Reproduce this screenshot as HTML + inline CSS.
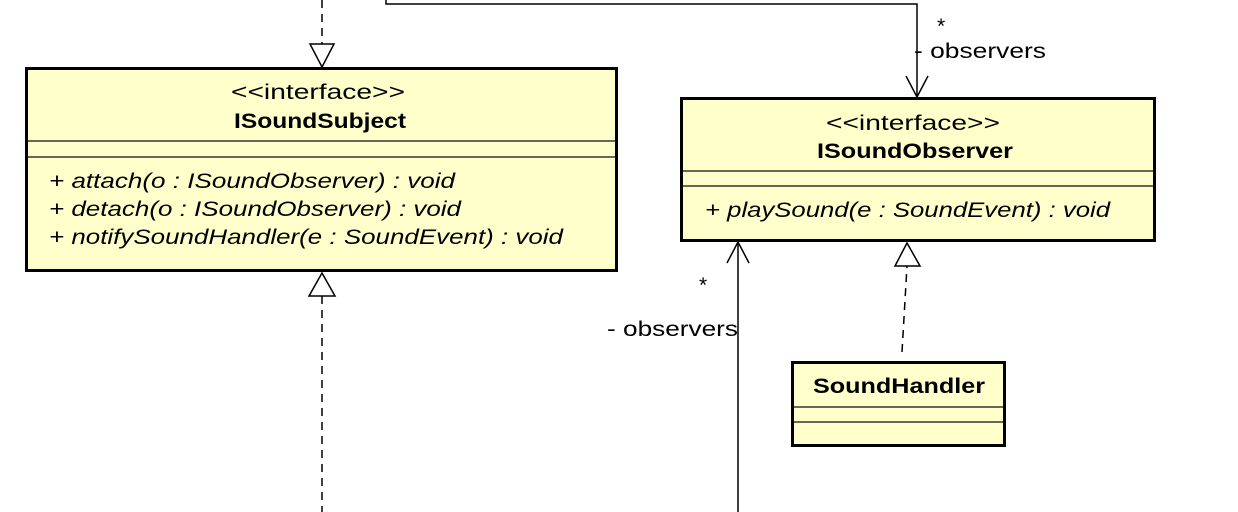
<!DOCTYPE html>
<html><head><meta charset="utf-8"><style>
html,body{margin:0;padding:0;background:#fff;}
svg{display:block;}
text{font-family:"Liberation Sans","DejaVu Sans",sans-serif;font-size:21px;fill:#000;}
.b{font-weight:bold;}
.i{font-style:italic;}
</style></head><body>
<svg width="1238" height="512" viewBox="0 0 1238 512" xmlns="http://www.w3.org/2000/svg">
<!-- top dashed realization into ISoundSubject -->
<line x1="322" y1="0" x2="322" y2="44" stroke="#000" stroke-width="1.5" stroke-dasharray="8,6"/>
<polygon points="310,44 334,44 322,67" fill="#fff" stroke="#000" stroke-width="1.5"/>
<!-- top association -->
<polyline points="386,0 386,4 917,4 917,97" fill="none" stroke="#000" stroke-width="1.5"/>
<polyline points="906,76 917,97 928,76" fill="none" stroke="#000" stroke-width="1.5"/>
<text x="937" y="33">*</text>
<text x="914" y="58" textLength="132" lengthAdjust="spacingAndGlyphs">- observers</text>

<!-- ISoundSubject -->
<rect x="26.5" y="68.5" width="590" height="202" fill="#ffffcc" stroke="#000" stroke-width="3"/>
<line x1="28" y1="141" x2="615" y2="141" stroke="#333" stroke-width="1.5"/>
<line x1="28" y1="157" x2="615" y2="157" stroke="#333" stroke-width="1.5"/>
<text x="318" y="99" text-anchor="middle" textLength="174" lengthAdjust="spacingAndGlyphs">&lt;&lt;interface&gt;&gt;</text>
<text x="320" y="128" text-anchor="middle" class="b" textLength="172" lengthAdjust="spacingAndGlyphs">ISoundSubject</text>
<text x="49" y="188" class="i" textLength="406" lengthAdjust="spacingAndGlyphs">+ attach(o : ISoundObserver) : void</text>
<text x="49" y="216" class="i" textLength="412" lengthAdjust="spacingAndGlyphs">+ detach(o : ISoundObserver) : void</text>
<text x="49" y="244" class="i" textLength="514" lengthAdjust="spacingAndGlyphs">+ notifySoundHandler(e : SoundEvent) : void</text>

<!-- bottom dashed realization into ISoundSubject -->
<line x1="322" y1="296" x2="322" y2="512" stroke="#000" stroke-width="1.5" stroke-dasharray="8,6"/>
<polygon points="309,296 335,296 322,273" fill="#fff" stroke="#000" stroke-width="1.5"/>

<!-- ISoundObserver -->
<rect x="681.5" y="98.5" width="473" height="142" fill="#ffffcc" stroke="#000" stroke-width="3"/>
<line x1="683" y1="171" x2="1153" y2="171" stroke="#333" stroke-width="1.5"/>
<line x1="683" y1="186" x2="1153" y2="186" stroke="#333" stroke-width="1.5"/>
<text x="913" y="130" text-anchor="middle" textLength="174" lengthAdjust="spacingAndGlyphs">&lt;&lt;interface&gt;&gt;</text>
<text x="915" y="158" text-anchor="middle" class="b" textLength="196" lengthAdjust="spacingAndGlyphs">ISoundObserver</text>
<text x="705" y="217" class="i" textLength="405" lengthAdjust="spacingAndGlyphs">+ playSound(e : SoundEvent) : void</text>

<!-- bottom association into ISoundObserver -->
<line x1="738" y1="242" x2="738" y2="512" stroke="#000" stroke-width="1.5"/>
<polyline points="727,263 738,242 749,263" fill="none" stroke="#000" stroke-width="1.5"/>
<text x="699" y="292">*</text>
<text x="607" y="336" textLength="131" lengthAdjust="spacingAndGlyphs">- observers</text>

<!-- SoundHandler realization -->
<line x1="902" y1="352" x2="907" y2="266" stroke="#000" stroke-width="1.5" stroke-dasharray="8,6"/>
<polygon points="895,266 920,266 907,243" fill="#fff" stroke="#000" stroke-width="1.5"/>

<!-- SoundHandler -->
<rect x="792.5" y="362.5" width="212" height="83" fill="#ffffcc" stroke="#000" stroke-width="3"/>
<line x1="794" y1="407" x2="1003" y2="407" stroke="#333" stroke-width="1.5"/>
<line x1="794" y1="422" x2="1003" y2="422" stroke="#333" stroke-width="1.5"/>
<text x="899" y="393" text-anchor="middle" class="b" textLength="172" lengthAdjust="spacingAndGlyphs">SoundHandler</text>
</svg>
</body></html>
